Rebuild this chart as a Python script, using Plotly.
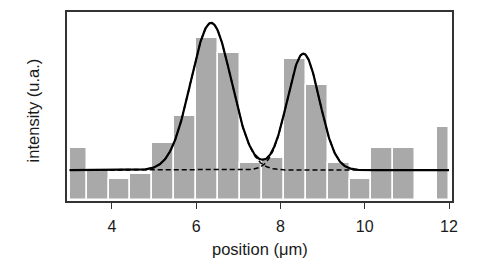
import numpy as np
import plotly.graph_objects as go

# Histogram: bin edges (μm) and counts
bin_edges = [3.0, 3.4, 3.92, 4.44, 4.96, 5.48, 6.0, 6.52, 7.04, 7.56, 8.08,
             8.60, 9.12, 9.64, 10.16, 10.68, 11.20, 11.72, 12.0]
counts = [10, 6, 4, 5, 11, 16, 31, 28, 7, 8, 27, 22, 7, 4, 10, 10, 0, 14]

# Two-Gaussian fit parameters
baseline = 5.74
peak_centers = [6.355, 8.544]
peak_sigmas = [0.48, 0.38]
peak_amplitudes = [28.06, 22.2]

x_ticks = [4, 6, 8, 10, 12]

edges = np.array(bin_edges)
centers = (edges[:-1] + edges[1:]) / 2
widths = edges[1:] - edges[:-1]

xs = np.linspace(3.0, 12.0, 600)
comps = [a * np.exp(-(xs - c) ** 2 / (2 * s ** 2))
         for a, c, s in zip(peak_amplitudes, peak_centers, peak_sigmas)]
total = baseline + comps[0] + comps[1]

fig = go.Figure()
fig.add_trace(go.Bar(x=centers, y=counts, width=widths,
                     marker=dict(color="#a9a9a9", line=dict(color="white", width=1.5)),
                     showlegend=False, hoverinfo="skip"))
for comp in comps:
    fig.add_trace(go.Scatter(x=xs, y=baseline + comp, mode="lines",
                             line=dict(color="black", width=1.5, dash="5px,3px"),
                             showlegend=False, hoverinfo="skip"))
fig.add_trace(go.Scatter(x=xs, y=total, mode="lines",
                         line=dict(color="black", width=2.2),
                         showlegend=False, hoverinfo="skip"))

font = "Liberation Sans, Arial, Helvetica, sans-serif"
# page body has an 8px margin: the figure is sized/offset to compensate
fig.update_layout(
    width=483, height=250,
    margin=dict(l=59, r=38.5, t=2, b=56.7, pad=0),
    paper_bgcolor="white", plot_bgcolor="white",
    bargap=0,
    font=dict(family=font, size=16, color="#1a1a1a"),
    xaxis=dict(range=[2.935, 12.071], tickvals=x_ticks, ticks="outside",
               ticklen=6, tickwidth=1.3, tickcolor="#333",
               ticklabelstandoff=4,
               showline=True, linecolor="#333", linewidth=1.5, mirror=True,
               showgrid=False, zeroline=False,
               tickfont=dict(family=font, size=16, color="#1a1a1a")),
    yaxis=dict(range=[-0.15, 35.88], showticklabels=False, ticks="",
               showline=True, linecolor="#333", linewidth=1.5, mirror=True,
               showgrid=False, zeroline=False),
    annotations=[
        dict(text="position (μm)", xref="paper", yref="paper", x=0.5, y=-0.252,
             xanchor="center", yanchor="middle", showarrow=False,
             font=dict(family=font, size=16.5, color="#1a1a1a")),
        dict(text="intensity (u.a.)", xref="paper", yref="paper", x=-0.088, y=0.48,
             xanchor="center", yanchor="middle", textangle=-90, showarrow=False,
             font=dict(family=font, size=16.5, color="#1a1a1a")),
    ],
)

fig.write_html("out.html")
